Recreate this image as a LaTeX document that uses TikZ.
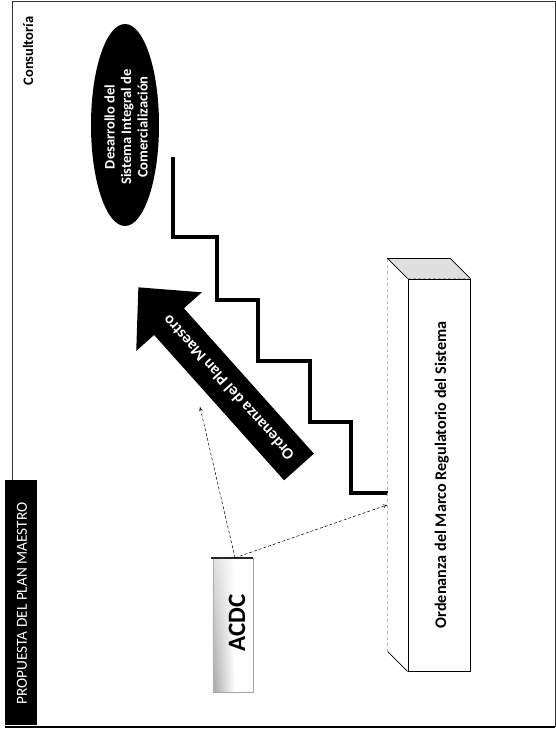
\documentclass[tikz,border=0pt]{standalone}
\usepackage{fontspec}
\setmainfont{Carlito}
\usetikzlibrary{arrows.meta,shapes.geometric,shadings}
\tikzset{
  stair/.style={line width=4.5pt, line join=miter, black},
  connector/.style={densely dashed, line width=0.5pt, -{To[length=4pt,width=4pt]}},
  whitebold/.style={text=white, font=\bfseries},
  frameline/.style={line width=0.8pt, black!80},
}
\begin{document}
\begin{tikzpicture}[x=1pt,y=1pt]
\useasboundingbox (0,0) rectangle (556,736);
% frame
\draw[frameline] (12,256) -- (12,734.5) -- (555,734.5) -- (555,8.5);
\draw[line width=2pt] (5,8.5) -- (555,8.5);
% title band
\node[fill=black, minimum width=32pt, minimum height=245pt, inner sep=0pt, anchor=south west] (band) at (5,11) {};
\node[rotate=90, anchor=base, text=white, font=\fontsize{15.3}{18}\selectfont] (title) at (27,132.5) {PROPUESTA DEL PLAN MAESTRO};
% header label
\node[rotate=90, anchor=base, font=\fontsize{14.5}{17}\selectfont\bfseries] (consult) at (33,685) {Consultoría};
% ellipse goal
\node[ellipse, fill=black, minimum width=68pt, minimum height=202pt, inner sep=0pt] (goal) at (125,611) {};
\node[rotate=90, whitebold, align=center, font=\fontsize{14.5}{16.5}\selectfont\bfseries] (goaltext) at (126,609) {Desarrollo del\\Sistema Integral de\\Comercialización};
% staircase
\coordinate (s0) at (173,579);
\coordinate (s10) at (388,243);
\draw[stair] (s0) -- (173,499) -- (217,499) -- (217,436) -- (258,436) -- (258,375) -- (310,375) -- (310,314) -- (351,314) -- (351,243) -- (s10);
% pillar
\node[draw=black, line width=0.8pt, fill=white, minimum width=62pt, minimum height=392pt, inner sep=0pt] (pillar) at (439,261) {};
\coordinate (pbl) at ([xshift=-20pt,yshift=20pt]pillar.north west);
\coordinate (pbr) at ([xshift=-20pt,yshift=20pt]pillar.north east);
\coordinate (pbb) at ([xshift=-20pt,yshift=20pt]pillar.south west);
\fill[gray!25] (pbl) -- (pbr) -- (pillar.north east) -- (pillar.north west) -- cycle;
\draw[line width=0.7pt] (pillar.north west) -- (pbl) -- (pbr) -- (pillar.north east);
\draw[gray!70, densely dashed, line width=0.6pt] (pillar.north west) -- (pillar.north east);
\draw[gray!60, dashed, line width=0.6pt] (pbl) -- (pbb);
\draw[line width=0.7pt] (pbb) -- (pillar.south west);
\node[rotate=90, anchor=base, font=\fontsize{16.2}{20}\selectfont\bfseries] (pillartext) at (446,261) {Ordenanza del Marco Regulatorio del Sistema};
% ACDC box
\node[minimum width=40pt, minimum height=134pt, inner sep=0pt] (acdc) at (233,111) {};
\shade[lower left=gray!70, upper left=gray!25, lower right=white, upper right=white] (acdc.south west) rectangle ([xshift=22pt]acdc.north west);
\draw[gray!70, line width=0.6pt] (acdc.north east) -- (acdc.south east) -- (acdc.south west);
\draw[gray!60, line width=0.5pt] (acdc.south west) -- (acdc.north west);
\draw[black!85, line width=2pt] ([xshift=-2pt]acdc.north west) -- (acdc.north east);
\node[rotate=90, anchor=base, font=\fontsize{25}{30}\selectfont\bfseries] (acdctext) at (245,113) {ACDC};
% big arrow
\begin{scope}[shift={(299,269)}, rotate=131.8]
\fill[black] (0,-20) -- (195,-20) -- (195,-44) -- (241,0) -- (195,44) -- (195,20) -- (0,20) -- cycle;
\node[rotate=131.8, whitebold, font=\fontsize{16}{19}\selectfont\bfseries] (arrowtext) at (106,0) {Ordenanza del Plan Maestro};
\end{scope}
% connectors
\coordinate (arrowpt) at (200,329);
\coordinate (pillarpt) at (387,231);
\draw[connector] ([xshift=2pt]acdc.north) -- (arrowpt);
\draw[connector] ([xshift=2pt]acdc.north) -- (pillarpt);
\end{tikzpicture}
\end{document}
